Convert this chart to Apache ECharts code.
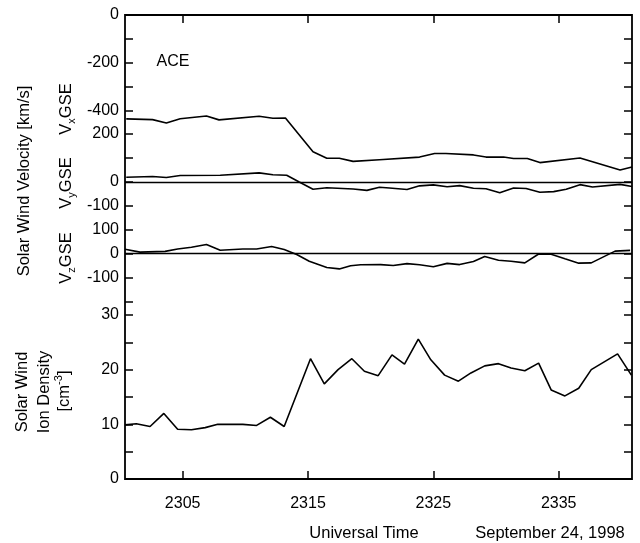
<!DOCTYPE html>
<html><head><meta charset="utf-8">
<script src="https://cdn.jsdelivr.net/npm/echarts@6/dist/echarts.min.js"></script>
<style>html,body{margin:0;padding:0;background:#fff}#c{width:640px;height:543px}</style>
</head><body><div id="c"></div>
<script>
// minutes after 23:00 UT, September 24, 1998
const tVx = [0.5,2.6,3.7,4.8,6.9,7.9,11.1,12.2,13.2,15.4,16.5,17.5,18.6,20.7,23.9,25.1,26.0,28.2,29.2,30.6,31.4,32.5,33.5,36.7,39.9,40.85];
const vx  = [-433,-436,-450,-432,-421,-437,-422,-430,-429,-570,-597,-597,-610,-603,-592,-577,-577,-583,-592,-592,-598,-598,-615,-596,-646,-633];

const tVy = [0.5,2.6,3.7,4.8,8.0,11.1,12.2,13.3,14.3,15.4,16.5,18.6,19.7,20.7,21.5,22.9,23.9,25.0,26.1,27.1,28.2,29.2,30.3,31.4,32.4,33.5,34.6,35.6,36.7,37.7,39.9,40.85];
const vy  = [20,23,19,27,28,38,30,28,0,-30,-24,-29,-35,-22,-25,-31,-16,-12,-20,-15,-26,-28,-45,-25,-27,-43,-40,-30,-11,-21,-10,-19];

const tVz = [0.4,1.6,3.6,4.6,5.7,6.9,8.0,9.8,10.9,12.1,13.1,14.1,15.1,16.5,17.5,18.4,19.2,20.8,21.8,22.9,23.9,25.0,26.1,27.1,28.2,29.1,30.2,31.2,32.3,33.4,34.4,35.5,36.6,37.6,39.5,40.7];
const vz  = [17,5,8,18,25,37,13,18,18,28,16,-5,-33,-59,-65,-52,-48,-47,-51,-43,-48,-56,-42,-47,-34,-13,-29,-33,-40,-3,-4,-23,-41,-40,9,12];

const tN = [0.4,1.3,2.4,3.5,4.6,5.7,6.8,7.8,9.8,10.9,12.0,13.1,15.2,16.3,17.4,18.5,19.5,20.6,21.7,22.7,23.8,24.8,25.9,27.0,28.0,29.1,30.2,31.2,32.3,33.4,34.4,35.5,36.6,37.6,39.7,40.8];
const dens = [9.9,10.1,9.6,12.0,9.1,9.0,9.4,10.0,10.0,9.8,11.3,9.6,22.0,17.4,20.0,22.0,19.7,18.9,22.7,21.0,25.6,21.8,19.0,17.9,19.4,20.7,21.1,20.3,19.8,21.2,16.3,15.2,16.6,20.0,22.9,19.0];

const timeTicks = [5,15,25,35];
const vxTicks = [0,-100,-200,-300,-400], vxLabels = [0,-200,-400];
const vyTicks = [200,100,0,-100], vyLabels = [200,0,-100];
const vzTicks = [100,0,-100,-200], vzLabels = [100,0,-100];
const nTicks = [0,5,10,15,20,25,30], nLabels = [0,10,20,30];

const FONT = "'Liberation Sans', Arial, Helvetica, sans-serif";
const X_MIN = 0.4, X_MAX = 40.85;
const L = 125, R = 8;

const pair = (t, v) => t.map((x, i) => [x, v[i]]);
const chart = echarts.init(document.getElementById('c'), null, {renderer: 'canvas'});

const panels = [
  {top: 15, height: 168, min: -700, max: 0, ticks: vxTicks, labels: vxLabels},
  {top: 134, height: 96, min: -200, max: 200, ticks: vyTicks, labels: vyLabels},
  {top: 229.3, height: 72, min: -200, max: 100, ticks: vzTicks, labels: vzLabels},
  {top: 315, height: 164, min: 0, max: 30, ticks: nTicks, labels: nLabels}
];

const grid = panels.map(p => ({left: L, right: R, top: p.top, height: p.height, show: false}));
grid.push({left: L, right: R, top: 15, height: 464, show: true, borderColor: '#000', borderWidth: 1.8, backgroundColor: 'transparent'});

const tickStyle = {color: '#000', width: 1.5};
const xAxis = panels.map((p, i) => ({type: 'value', gridIndex: i, min: X_MIN, max: X_MAX, show: false}));
xAxis.push({
  type: 'value', gridIndex: 4, min: X_MIN, max: X_MAX, position: 'bottom',
  axisLine: {show: false}, splitLine: {show: false},
  axisTick: {inside: true, length: 8, customValues: timeTicks, lineStyle: tickStyle},
  axisLabel: {customValues: timeTicks, formatter: v => String(2300 + v), color: '#000', fontSize: 16, fontFamily: FONT, margin: 17}
});
xAxis.push({
  type: 'value', gridIndex: 4, min: X_MIN, max: X_MAX, position: 'top',
  axisLine: {show: false}, splitLine: {show: false},
  axisTick: {inside: true, length: 8, customValues: timeTicks, lineStyle: tickStyle},
  axisLabel: {show: false}
});

const yAxis = [];
panels.forEach((p, i) => {
  yAxis.push({
    type: 'value', gridIndex: i, min: p.min, max: p.max, position: 'left',
    axisLine: {show: false}, splitLine: {show: false},
    axisTick: {inside: true, length: 8, customValues: p.ticks, lineStyle: tickStyle},
    axisLabel: {customValues: p.labels, color: '#000', fontSize: 16, fontFamily: FONT, margin: 6}
  });
  yAxis.push({
    type: 'value', gridIndex: i, min: p.min, max: p.max, position: 'right',
    axisLine: {show: false}, splitLine: {show: false},
    axisTick: {inside: true, length: 8, customValues: p.ticks, lineStyle: tickStyle},
    axisLabel: {show: false}
  });
});
yAxis.push({type: 'value', gridIndex: 4, min: 0, max: 1, show: false});

const lineStyle = {color: '#000', width: 1.6};
const zeroLine = {
  silent: true, symbol: ['none', 'none'], label: {show: false},
  lineStyle: {color: '#000', width: 1.4, type: 'solid'},
  data: [{yAxis: 0}]
};
const series = [
  {type: 'line', xAxisIndex: 0, yAxisIndex: 0, data: pair(tVx, vx), showSymbol: false, symbol: 'none', lineStyle, itemStyle: {color: '#000'}},
  {type: 'line', xAxisIndex: 1, yAxisIndex: 2, data: pair(tVy, vy), showSymbol: false, symbol: 'none', lineStyle, itemStyle: {color: '#000'}, markLine: zeroLine},
  {type: 'line', xAxisIndex: 2, yAxisIndex: 4, data: pair(tVz, vz), showSymbol: false, symbol: 'none', lineStyle, itemStyle: {color: '#000'}, markLine: zeroLine},
  {type: 'line', xAxisIndex: 3, yAxisIndex: 6, data: pair(tN, dens), showSymbol: false, symbol: 'none', lineStyle, itemStyle: {color: '#000'}}
];

const txt = (x, y, text, rich, size, rot) => ({
  type: 'text', x, y, rotation: rot || 0,
  style: {text, fill: '#000', font: size + 'px ' + FONT, fontSize: size, fontFamily: FONT,
    align: 'center', verticalAlign: 'middle', textAlign: 'center', textVerticalAlign: 'middle', rich}
});
const R90 = Math.PI / 2;
const subRich = {
  a: {fontSize: 16.5, fontFamily: FONT, fill: '#000', color: '#000', lineHeight: 22, verticalAlign: 'middle'},
  s: {fontSize: 11, fontFamily: FONT, fill: '#000', color: '#000', lineHeight: 22, verticalAlign: 'bottom'},
  u: {fontSize: 11, fontFamily: FONT, fill: '#000', color: '#000', lineHeight: 22, verticalAlign: 'top'}
};

const graphic = [
  txt(173, 62, 'ACE', null, 16, 0),
  txt(24, 181, 'Solar Wind Velocity [km/s]', null, 16.5, R90),
  txt(66, 109, '{a|V}{s|x}{a|GSE}', subRich, 16.5, R90),
  txt(66, 183, '{a|V}{s|y}{a|GSE}', subRich, 16.5, R90),
  txt(66, 258, '{a|V}{s|z}{a|GSE}', subRich, 16.5, R90),
  txt(22, 392, 'Solar Wind', null, 16.5, R90),
  txt(44, 392, 'Ion Density', null, 16.5, R90),
  txt(64, 391, '{a|[cm}{u|-3}{a|]}', subRich, 16.5, R90),
  txt(364, 533, 'Universal Time', null, 16.5, 0),
  txt(550, 533, 'September 24, 1998', null, 16.5, 0)
];

chart.setOption({animation: false, backgroundColor: '#fff', grid, xAxis, yAxis, series, graphic});
</script>
</body></html>
